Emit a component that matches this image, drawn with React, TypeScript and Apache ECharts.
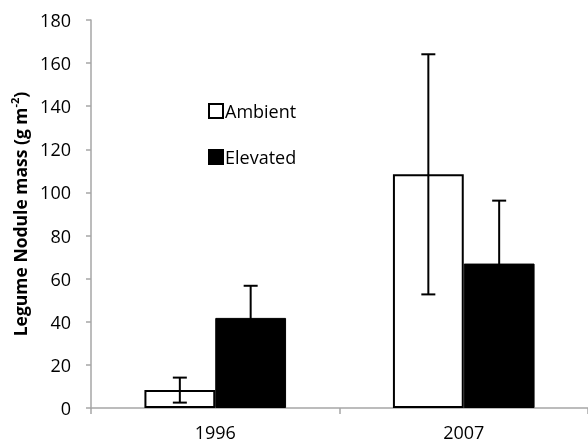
import React, { useEffect, useRef } from "react";
import * as echarts from "echarts";

const years = ["1996", "2007"];
const ambientMean = [8.3, 108.4];
const ambientErr = [5.8, 55.7];
const elevatedMean = [41.8, 67.0];
const elevatedErr = [14.9, 29.2];
const yTicks = { min: 0, max: 180, interval: 20 };

const FONT = "'Open Sans', sans-serif";
const BAR_FRAC = 0.285;

function errRender(sign: number) {
  return (params: any, api: any) => {
    const idx = api.value(0);
    const mean = api.value(1);
    const err = api.value(2);
    const w = api.size([1, 0])[0];
    const off = (sign * w * BAR_FRAC) / 2;
    const top = api.coord([idx, mean + err]);
    const bot = api.coord([idx, mean - err]);
    const x = top[0] + off;
    const cap = 7;
    const style = { stroke: "#000", lineWidth: 2 };
    return {
      type: "group",
      children: [
        { type: "line", shape: { x1: x, y1: top[1], x2: x, y2: bot[1] }, style },
        { type: "line", shape: { x1: x - cap, y1: top[1], x2: x + cap, y2: top[1] }, style },
        { type: "line", shape: { x1: x - cap, y1: bot[1], x2: x + cap, y2: bot[1] }, style },
      ],
    };
  };
}

export default function App() {
  const ref = useRef<HTMLDivElement>(null);
  useEffect(() => {
    if (!ref.current) return;
    const chart = echarts.init(ref.current, null, { renderer: "svg" });
    chart.setOption({
      animation: false,
      textStyle: { fontFamily: FONT },
      grid: { left: 91, right: 0, top: 20, bottom: 37 },
      legend: {
        orient: "vertical",
        left: 203,
        top: 97,
        itemWidth: 14,
        itemHeight: 14,
        itemGap: 28,
        textStyle: { fontSize: 18, color: "#000", fontFamily: FONT, padding: [0, 0, 0, -3] },
        data: [
          { name: "Ambient", icon: "rect", itemStyle: { color: "#fff", borderColor: "#000", borderWidth: 2 } },
          { name: "Elevated", icon: "rect", itemStyle: { color: "#000" } },
        ],
      },
      xAxis: {
        type: "category",
        data: years,
        axisLine: { show: true, lineStyle: { color: "#a6a6a6", width: 1.5 } },
        axisTick: { show: true, length: 6, lineStyle: { color: "#a6a6a6", width: 1.5 } },
        axisLabel: { fontSize: 18, color: "#000", margin: 15, fontFamily: FONT },
      },
      yAxis: {
        type: "value",
        min: yTicks.min,
        max: yTicks.max,
        interval: yTicks.interval,
        splitLine: { show: false },
        axisLine: { show: true, lineStyle: { color: "#a6a6a6", width: 1.5 } },
        axisTick: { show: true, length: 5, lineStyle: { color: "#a6a6a6", width: 1.5 } },
        axisLabel: { fontSize: 18, color: "#000", margin: 20, fontFamily: FONT },
        name: "{b|Legume Nodule mass (g m}{sup|-2}{b|)}",
        nameLocation: "middle",
        nameGap: 57,
        nameTextStyle: {
          rich: {
            b: { fontSize: 17.5, fontWeight: "bold", color: "#000", fontFamily: FONT, lineHeight: 22 },
            sup: { fontSize: 11, fontWeight: "bold", color: "#000", fontFamily: FONT, lineHeight: 22, verticalAlign: "top", padding: [0, 0, 8, 0] },
          },
        },
      },
      series: [
        {
          name: "Ambient",
          type: "bar",
          data: ambientMean,
          barWidth: BAR_FRAC * 100 + "%",
          barGap: "0%",
          itemStyle: { color: "#fff", borderColor: "#000", borderWidth: 2 },
        },
        {
          name: "Elevated",
          type: "bar",
          data: elevatedMean,
          barWidth: BAR_FRAC * 100 + "%",
          barGap: "0%",
          itemStyle: { color: "#000", borderColor: "#000", borderWidth: 1 },
        },
        {
          type: "custom",
          z: 10,
          renderItem: errRender(-1),
          data: years.map((_, i) => [i, ambientMean[i], ambientErr[i]]),
        },
        {
          type: "custom",
          z: 10,
          renderItem: errRender(1),
          data: years.map((_, i) => [i, elevatedMean[i], elevatedErr[i]]),
        },
      ],
    });
    return () => chart.dispose();
  }, []);
  return <div ref={ref} style={{ position: "fixed", left: 0, top: 0, width: 588, height: 445 }} />;
}
